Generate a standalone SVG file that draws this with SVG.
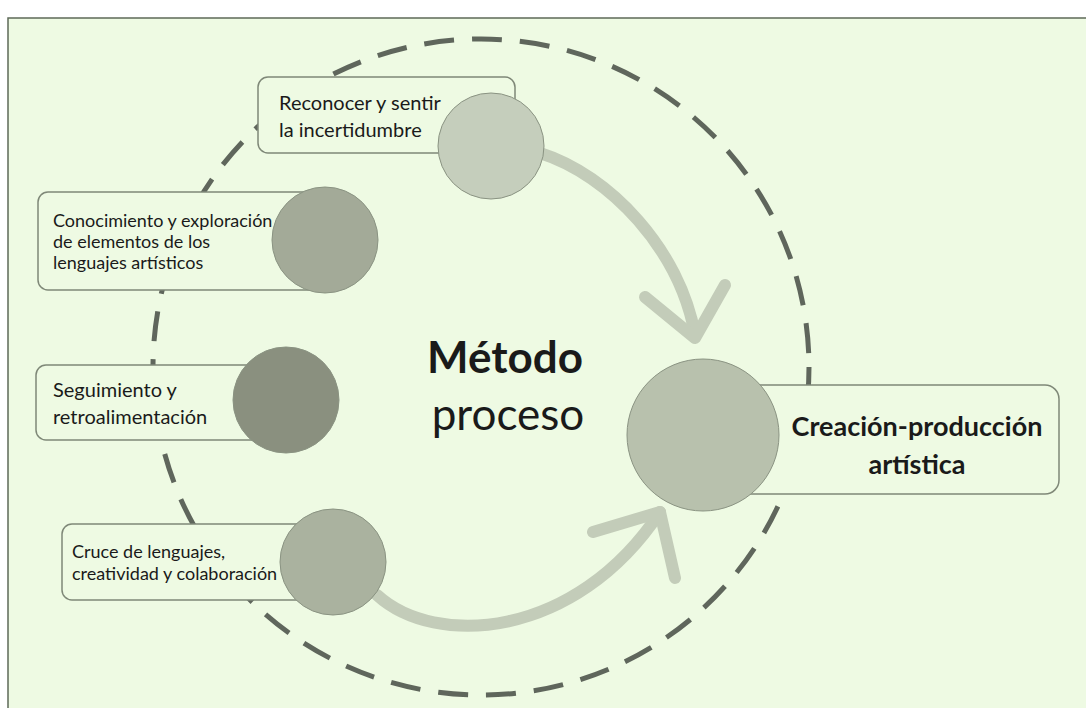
<svg xmlns="http://www.w3.org/2000/svg" width="1086" height="708" viewBox="0 0 1086 708">
<style>
.box{fill:#eefae3;stroke:#7f8878;stroke-width:1.5}
.t{font-family:Lato,"Open Sans","Liberation Sans",sans-serif;font-size:18px;fill:#1a1a1a}
.t20{font-size:20px}
.tc{font-size:27px;font-weight:bold}
.tb{font-size:44px}
.arr{fill:none;stroke:#c3ccb9;stroke-width:12;stroke-linecap:round;stroke-linejoin:round}
.c{stroke:#8a9382;stroke-width:1}
</style>
<rect x="0" y="0" width="1086" height="708" fill="#ffffff"/>
<rect x="8" y="18" width="1080" height="692" fill="#eefae3" stroke="#5e6a58" stroke-width="1.5"/>
<circle cx="481" cy="367" r="328" fill="none" stroke="#5f665c" stroke-width="5" stroke-dasharray="30 18"/>
<g id="connectors">
<path class="arr" d="M 540 153 C 610 175, 680 250, 695 335"/>
<polyline class="arr" points="645,297 695,338 725,285"/>
<path class="arr" d="M 377 595 C 435 648, 575 640, 660 512"/>
<polyline class="arr" points="593,532 660,512 675,578"/>
</g>
<g id="n1">
<rect class="box" x="258" y="77" width="257" height="76" rx="10"/>
<circle class="c" cx="491" cy="146" r="53" fill="#c5cebc"/>
<text class="t t20" x="279" y="110">Reconocer y sentir</text>
<text class="t t20" x="279" y="137">la incertidumbre</text>
</g>
<g id="n2">
<rect class="box" x="38" y="192" width="287" height="98" rx="10"/>
<circle class="c" cx="325" cy="240" r="53" fill="#a3aa98"/>
<text class="t" x="53" y="227">Conocimiento y exploración</text>
<text class="t" x="53" y="248">de elementos de los</text>
<text class="t" x="53" y="269">lenguajes artísticos</text>
</g>
<g id="n3">
<rect class="box" x="36" y="365" width="250" height="75" rx="10"/>
<circle class="c" cx="286" cy="400" r="53" fill="#8a907f"/>
<text class="t t20" x="53" y="397">Seguimiento y</text>
<text class="t t20" x="53" y="424">retroalimentación</text>
</g>
<g id="n4">
<rect class="box" x="62" y="524" width="271" height="76" rx="10"/>
<circle class="c" cx="333" cy="562" r="53" fill="#aab29f"/>
<text class="t" x="72" y="558">Cruce de lenguajes,</text>
<text class="t" x="72" y="580">creatividad y colaboración</text>
</g>
<g id="center">
<rect class="box" x="703" y="385" width="356" height="109" rx="14"/>
<circle class="c" cx="703" cy="435" r="76" fill="#b8c1ad"/>
<text class="t tc" x="917" y="436" text-anchor="middle">Creación-producción</text>
<text class="t tc" x="917" y="474" text-anchor="middle">artística</text>
</g>
<g id="title">
<text class="t tb" x="505" y="373" text-anchor="middle" font-weight="bold">Método</text>
<text class="t tb" x="508" y="430" text-anchor="middle">proceso</text>
</g>
</svg>
